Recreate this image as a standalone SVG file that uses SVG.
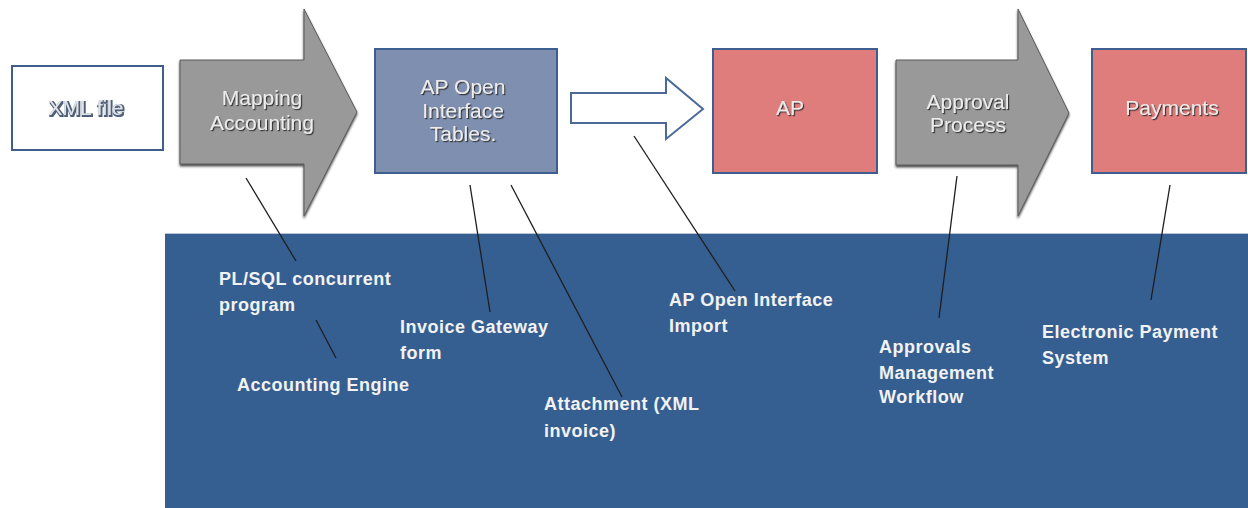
<svg xmlns="http://www.w3.org/2000/svg" width="1248" height="508" viewBox="0 0 1248 508">
<defs>
<filter id="tsh" x="-10%" y="-30%" width="120%" height="160%">
<feDropShadow dx="1.2" dy="1.2" stdDeviation="0.6" flood-color="#2a2a2a" flood-opacity="0.9"/>
</filter>
<filter id="tshb" x="-10%" y="-30%" width="120%" height="160%">
<feMorphology in="SourceAlpha" operator="dilate" radius="1" result="d"/>
<feFlood flood-color="#4f5f78"/>
<feComposite in2="d" operator="in" result="o"/>
<feOffset in="o" dx="1" dy="1" result="oo"/>
<feMerge><feMergeNode in="oo"/><feMergeNode in="SourceGraphic"/></feMerge>
</filter>
<filter id="ash" x="-5%" y="-5%" width="115%" height="115%">
<feDropShadow dx="0" dy="2" stdDeviation="0.8" flood-color="#222" flood-opacity="0.8"/>
</filter>
</defs>
<style>
.box{stroke:#3d5e8e;stroke-width:2}
.garrow{fill:#999999;stroke:#5a5a5a;stroke-width:1}
.top{font-family:"Liberation Sans",Arial,sans-serif;font-size:21px;fill:#ececec;text-anchor:middle}
.lbl{font-family:"Liberation Sans",Arial,sans-serif;font-size:18px;font-weight:bold;fill:#f2f2f2;letter-spacing:0.5px}
.conn{stroke:#1e1e1e;stroke-width:1.3;fill:none}
</style>
<rect x="0" y="0" width="1248" height="508" fill="#ffffff"/>

<g id="band">
<rect x="165" y="233" width="1083" height="275" fill="#365f91"/>
<line x1="165" y1="233.5" x2="1248" y2="233.5" stroke="#b9c3d2" stroke-width="1"/>
</g>

<g id="xml-file">
<rect class="box" x="12" y="66" width="151" height="84" fill="#ffffff" stroke="#4a6a98"/>
<text class="top" x="86" y="115" fill="#e4e8ee" filter="url(#tshb)" style="fill:#dfe4ea">XML file</text>
</g>

<g id="mapping-accounting">
<path class="garrow" filter="url(#ash)" d="M180,60 L304,60 L304,9 L357,112 L304,216 L304,164 L180,164 Z"/>
<text class="top" filter="url(#tsh)"><tspan x="262" y="105">Mapping</tspan><tspan x="262" y="130">Accounting</tspan></text>
</g>

<g id="ap-open-interface-tables">
<rect class="box" x="375" y="49" width="182" height="124" fill="#7f8faf"/>
<text class="top" filter="url(#tsh)"><tspan x="463" y="94">AP Open</tspan><tspan x="463" y="118">Interface</tspan><tspan x="463" y="141">Tables.</tspan></text>
</g>

<g id="import-arrow">
<path d="M571,93 L666,93 L666,78 L703,109 L666,139 L666,123 L571,123 Z" fill="#ffffff" stroke="#4a6a9a" stroke-width="2"/>
</g>

<g id="ap">
<rect class="box" x="713" y="49" width="164" height="124" fill="#df7c7c"/>
<text class="top" x="790" y="115" filter="url(#tsh)">AP</text>
</g>

<g id="approval-process">
<path class="garrow" filter="url(#ash)" d="M896,60 L1018,60 L1018,9 L1069,113 L1018,216 L1018,165 L896,165 Z"/>
<text class="top" filter="url(#tsh)"><tspan x="968" y="109">Approval</tspan><tspan x="968" y="132">Process</tspan></text>
</g>

<g id="payments">
<rect class="box" x="1092" y="49" width="154" height="124" fill="#df7c7c"/>
<text class="top" x="1172" y="115" filter="url(#tsh)">Payments</text>
</g>

<g id="connectors">
<line class="conn" x1="246" y1="178" x2="296" y2="261"/>
<line class="conn" x1="316" y1="320" x2="336" y2="358"/>
<line class="conn" x1="470" y1="185" x2="490" y2="312"/>
<line class="conn" x1="511" y1="185" x2="622" y2="397"/>
<line class="conn" x1="634" y1="136" x2="735" y2="291"/>
<line class="conn" x1="957" y1="176" x2="939" y2="318"/>
<line class="conn" x1="1170" y1="185" x2="1151" y2="300"/>
</g>

<g id="labels">
<text class="lbl"><tspan x="219" y="285">PL/SQL concurrent</tspan><tspan x="219" y="311">program</tspan></text>
<text class="lbl" x="237" y="391">Accounting Engine</text>
<text class="lbl"><tspan x="400" y="333">Invoice Gateway</tspan><tspan x="400" y="359">form</tspan></text>
<text class="lbl"><tspan x="544" y="410">Attachment (XML</tspan><tspan x="544" y="437">invoice)</tspan></text>
<text class="lbl"><tspan x="669" y="306">AP Open Interface</tspan><tspan x="669" y="332">Import</tspan></text>
<text class="lbl"><tspan x="879" y="353">Approvals</tspan><tspan x="879" y="379">Management</tspan><tspan x="879" y="403">Workflow</tspan></text>
<text class="lbl"><tspan x="1042" y="338">Electronic Payment</tspan><tspan x="1042" y="364">System</tspan></text>
</g>
</svg>
